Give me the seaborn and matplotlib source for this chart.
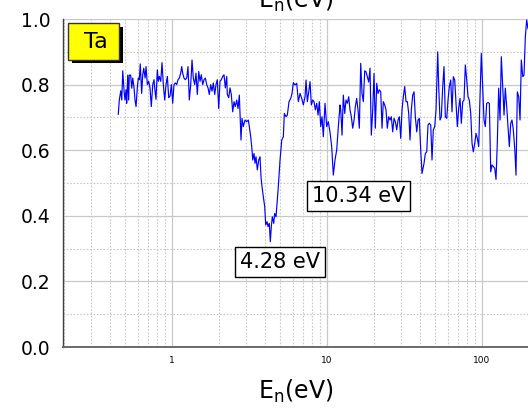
import matplotlib
matplotlib.use("Agg")
import matplotlib.pyplot as plt
import seaborn as sns
import pandas as pd
from matplotlib.ticker import LogLocator, MultipleLocator, NullFormatter
from matplotlib.patches import Rectangle

# ---------------- data ----------------
energy_ev = [
    0.450, 0.457, 0.467, 0.474, 0.481, 0.490, 0.497, 0.505, 0.510, 0.518,
    0.525, 0.530, 0.541, 0.550, 0.558, 0.569, 0.577, 0.586, 0.597, 0.606,
    0.615, 0.624, 0.637, 0.647, 0.657, 0.670, 0.680, 0.693, 0.707, 0.721,
    0.735, 0.751, 0.765, 0.777, 0.788, 0.804, 0.816, 0.828, 0.846, 0.862,
    0.879, 0.897, 0.915, 0.933, 0.952, 0.971, 0.990, 1.010, 1.030, 1.050,
    1.072, 1.093, 1.115, 1.138, 1.155, 1.172, 1.195, 1.218, 1.244, 1.268,
    1.293, 1.320, 1.346, 1.372, 1.401, 1.428, 1.456, 1.487, 1.516, 1.545,
    1.578, 1.609, 1.640, 1.674, 1.707, 1.740, 1.777, 1.811, 1.847, 1.886,
    1.922, 1.960, 2.001, 2.040, 2.080, 2.124, 2.165, 2.208, 2.254, 2.274,
    2.322, 2.367, 2.413, 2.464, 2.512, 2.561, 2.615, 2.666, 2.718,
    2.787, 2.828, 2.884, 2.958, 3.034, 3.107, 3.153, 3.219, 3.282, 3.316,
    3.381, 3.432, 3.483, 3.551, 3.626, 3.696, 3.751, 3.807, 3.882, 3.963,
    4.022, 4.101, 4.163, 4.243, 4.307, 4.371, 4.437, 4.530, 4.598, 4.688,
    4.758, 4.851, 4.976, 5.103, 5.226, 5.304, 5.439, 5.546, 5.687, 5.833,
    5.947, 6.063, 6.217, 6.377, 6.530, 6.697, 6.869, 7.034, 7.214, 7.322,
    7.465, 7.622, 7.770, 7.922, 8.088, 8.246, 8.407, 8.583, 8.751, 8.922,
    9.108, 9.285, 9.465, 9.707, 9.956, 10.19, 10.45, 10.72, 10.98, 11.26,
    11.55, 11.83, 12.13, 12.26, 12.50, 12.74, 13.01, 13.26, 13.52, 13.80,
    14.07, 14.35, 14.65, 14.94, 15.23, 15.54, 15.85, 16.16, 16.50, 16.82,
    17.15, 17.51, 17.85, 18.20, 18.58, 18.94, 19.31, 19.72, 20.10, 20.50,
    20.93, 21.33, 21.75, 22.21, 22.64, 23.08, 23.57, 24.02, 24.49, 25.00,
    25.50, 25.99, 26.54, 27.06, 27.59, 28.17, 28.72, 29.28, 29.89, 30.48,
    31.07, 31.71, 32.34, 32.97, 33.66, 34.32, 34.99, 35.72, 36.42, 37.13,
    37.91, 38.65, 39.40, 40.23, 41.02, 42.26, 43.08, 43.98, 44.84, 45.71,
    46.67, 47.58, 48.51, 49.53, 50.50, 51.79, 52.56, 53.58, 54.63, 55.78,
    56.87, 57.98, 59.21, 60.35, 61.52, 62.82, 64.05, 65.29, 66.67, 67.97,
    69.29, 70.75, 72.13, 73.54, 75.08, 76.55, 78.04, 79.68, 81.24, 82.83,
    84.56, 86.21, 87.89, 89.73, 91.48, 93.27, 95.21, 97.07, 98.97, 101.0,
    103.0, 105.0, 107.2, 109.3, 111.5, 113.8, 116.0, 118.3, 120.8, 123.1,
    125.5, 128.1, 130.7, 133.2, 136.0, 138.7, 141.3, 144.3, 147.1, 150.0,
    153.2, 156.1, 159.2, 162.6, 165.7, 169.0, 172.5, 175.9, 179.3, 183.1,
    186.6, 190.3, 194.2, 198.0,
]

transmission = [
    0.709, 0.753, 0.781, 0.753, 0.842, 0.784, 0.753, 0.784, 0.743, 0.829,
    0.753, 0.829, 0.829, 0.789, 0.820, 0.790, 0.753, 0.733, 0.790, 0.820,
    0.815, 0.863, 0.773, 0.830, 0.850, 0.820, 0.855, 0.800, 0.810, 0.790,
    0.733, 0.800, 0.815, 0.780, 0.755, 0.845, 0.810, 0.825, 0.810, 0.867,
    0.800, 0.753, 0.800, 0.825, 0.760, 0.765, 0.800, 0.743, 0.800, 0.805,
    0.800, 0.815, 0.820, 0.835, 0.855, 0.835, 0.820, 0.815, 0.820, 0.855,
    0.753, 0.800, 0.875, 0.820, 0.800, 0.835, 0.770, 0.840, 0.810, 0.830,
    0.800, 0.815, 0.820, 0.800, 0.790, 0.770, 0.800, 0.780, 0.805, 0.770,
    0.800, 0.815, 0.727, 0.810, 0.815, 0.825, 0.830, 0.790, 0.825, 0.770,
    0.760, 0.790, 0.770, 0.717, 0.748, 0.733, 0.753, 0.727, 0.768,
    0.631, 0.697, 0.672, 0.692, 0.687, 0.692, 0.672, 0.641, 0.601, 0.570,
    0.590, 0.560, 0.580, 0.540, 0.570, 0.580, 0.519, 0.489, 0.458, 0.428,
    0.372, 0.382, 0.367, 0.377, 0.321, 0.367, 0.397, 0.377, 0.407, 0.397,
    0.438, 0.489, 0.570, 0.631, 0.641, 0.712, 0.702, 0.707, 0.748, 0.758,
    0.773, 0.806, 0.799, 0.804, 0.748, 0.773, 0.758, 0.738, 0.763, 0.814,
    0.748, 0.778, 0.809, 0.738, 0.753, 0.748, 0.723, 0.743, 0.707, 0.748,
    0.672, 0.702, 0.641, 0.743, 0.672, 0.687, 0.656, 0.611, 0.524, 0.570,
    0.601, 0.672, 0.738, 0.723, 0.646, 0.768, 0.712, 0.753, 0.743, 0.763,
    0.723, 0.702, 0.667, 0.692, 0.733, 0.758, 0.723, 0.667, 0.865, 0.773,
    0.748, 0.842, 0.839, 0.824, 0.808, 0.850, 0.646, 0.723, 0.834, 0.667,
    0.804, 0.773, 0.784, 0.778, 0.667, 0.748, 0.738, 0.723, 0.667, 0.702,
    0.692, 0.702, 0.656, 0.697, 0.687, 0.662, 0.692, 0.702, 0.636, 0.723,
    0.763, 0.794, 0.748, 0.748, 0.712, 0.631, 0.723, 0.768, 0.778, 0.702,
    0.656, 0.692, 0.697, 0.600, 0.529, 0.560, 0.590, 0.595, 0.677, 0.682,
    0.677, 0.570, 0.662, 0.672, 0.723, 0.900, 0.794, 0.692, 0.702, 0.794,
    0.855, 0.702, 0.697, 0.753, 0.794, 0.814, 0.717, 0.824, 0.814, 0.743,
    0.672, 0.728, 0.758, 0.682, 0.748, 0.753, 0.860, 0.814, 0.763, 0.753,
    0.712, 0.621, 0.595, 0.621, 0.651, 0.636, 0.611, 0.763, 0.895, 0.794,
    0.692, 0.672, 0.743, 0.745, 0.743, 0.534, 0.555, 0.550, 0.545, 0.511,
    0.621, 0.789, 0.692, 0.885, 0.794, 0.707, 0.789, 0.733, 0.672, 0.611,
    0.682, 0.692, 0.662, 0.605, 0.524, 0.778, 0.763, 0.692, 0.875, 0.824,
    0.829, 0.946, 0.997, 0.970,
]

x_tick_values = [1, 10, 100]
x_tick_labels = ["1", "10", "100"]
y_tick_values = [0.0, 0.2, 0.4, 0.6, 0.8, 1.0]
y_tick_labels = ["0.0", "0.2", "0.4", "0.6", "0.8", "1.0"]

peak_labels = ["4.28 eV", "10.34 eV"]
peak_label_x = [5.01, 15.97]
peak_label_y = [0.259, 0.459]

sample_name = "Ta"
axis_title = r"E$_{\mathregular{n}}$(eV)"

# ---------------- figure ----------------
sns.set_style("white")
plt.rcParams["font.family"] = ["DejaVu Sans"]
plt.rcParams["text.color"] = "black"
plt.rcParams["axes.labelcolor"] = "black"
plt.rcParams["xtick.color"] = "black"
plt.rcParams["ytick.color"] = "black"

W, H = 528, 415
fig = plt.figure(figsize=(W / 100, H / 100), dpi=100)
ax = fig.add_axes([63 / W, (H - 347) / H, (528 - 63) / W, (347 - 19) / H])

df = pd.DataFrame({"energy": energy_ev, "trans": transmission})
sns.lineplot(data=df, x="energy", y="trans", ax=ax, color="#0000ff",
             linewidth=0.85, estimator=None, sort=False, zorder=3)

ax.set_xscale("log")
ax.set_xlim(0.198, 198)
ax.set_ylim(0.0, 1.0)

ax.set_xticks(x_tick_values)
ax.set_xticklabels(x_tick_labels)
ax.xaxis.set_minor_locator(LogLocator(base=10, subs=[2, 3, 4, 5, 6, 7, 8, 9], numticks=30))
ax.xaxis.set_minor_formatter(NullFormatter())
ax.set_yticks(y_tick_values)
ax.set_yticklabels(y_tick_labels)
ax.yaxis.set_minor_locator(MultipleLocator(0.1))

ax.grid(which="major", color="#c8c8c8", linewidth=0.9, linestyle="-", zorder=0)
ax.grid(which="minor", color="#c8c8c8", linewidth=0.8, linestyle=(0, (1.5, 1.5)), zorder=0)
ax.set_axisbelow(True)

for s in ("top", "right"):
    ax.spines[s].set_visible(False)
ax.spines["left"].set_color("#404040")
ax.spines["left"].set_linewidth(1.0)
ax.spines["bottom"].set_color("#6a6a6a")
ax.spines["bottom"].set_linewidth(1.4)

ax.tick_params(axis="y", which="major", direction="out", length=5, width=1,
               color="#303030", labelsize=13.5, pad=4, labelcolor="black")
ax.tick_params(axis="y", which="minor", direction="out", length=3, width=1,
               color="#303030")
ax.tick_params(axis="x", which="major", direction="inout", length=7, width=1,
               color="#303030", labelsize=6.5, pad=3, labelcolor="black")
ax.tick_params(axis="x", which="minor", direction="inout", length=5, width=0.8,
               color="#303030")

ax.set_xlabel(axis_title, fontsize=17, color="black")
ax.xaxis.set_label_coords(0.5, -0.095)
ax.set_ylabel("")

# clipped top axis title (cut by the top edge, as in the reference)
fig.text((63 + 528) / 2 / W, 1 - 8 / H, axis_title, fontsize=17,
         ha="center", va="baseline", color="black")

# peak annotation boxes
for lab, px, py in zip(peak_labels, peak_label_x, peak_label_y):
    ax.text(px, py, lab, fontsize=15, ha="center", va="center", zorder=5,
            color="black",
            bbox=dict(boxstyle="square,pad=0.24", fc="white", ec="black", lw=1.0))

# sample label with shadow
shadow = Rectangle((72 / W, 1 - 63 / H), 51 / W, 36 / H, transform=fig.transFigure,
                   facecolor="black", edgecolor="black", lw=0, zorder=5)
box = Rectangle((68 / W, 1 - 60 / H), 51 / W, 37 / H, transform=fig.transFigure,
                facecolor="#ffff00", edgecolor="#333333", lw=1.0, zorder=6)
fig.add_artist(shadow)
fig.add_artist(box)
fig.text(96 / W, 1 - 42 / H, sample_name, fontsize=16, ha="center", va="center",
         zorder=7, color="black")

fig.savefig("out.png", dpi=100)
